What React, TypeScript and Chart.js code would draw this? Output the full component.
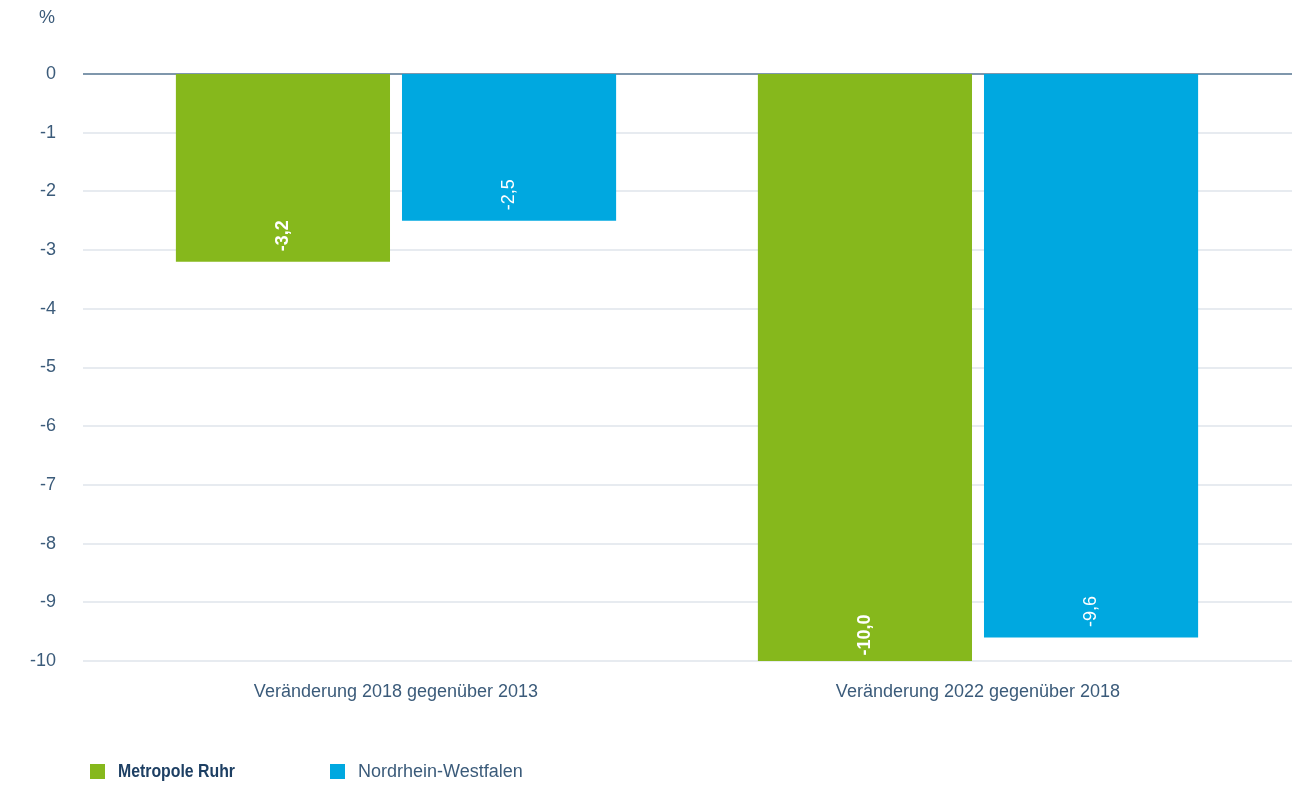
import React, { useEffect, useRef } from "react";
import { Chart, registerables } from "chart.js";

Chart.register(...registerables);

const categories = ["Veränderung 2018 gegenüber 2013", "Veränderung 2022 gegenüber 2018"];
const seriesNames = ["Metropole Ruhr", "Nordrhein-Westfalen"];
const metropoleRuhr = [-3.2, -10.0];
const nordrheinWestfalen = [-2.5, -9.6];
const yTicks = [0, -1, -2, -3, -4, -5, -6, -7, -8, -9, -10];

const GREEN = "#86b81c";
const BLUE = "#00a8e0";
const TEXT = "#3b5b7a";
const FONT = "'Liberation Sans', Arial, sans-serif";

const fmt = (v: number) => v.toFixed(1).replace(".", ",");

const customPlugin = {
  id: "custom",
  beforeDatasetsDraw(chart: any) {
    const { ctx } = chart;
    const y = chart.scales.y;
    ctx.save();
    yTicks.forEach((t) => {
      const py = Math.round(y.getPixelForValue(t));
      ctx.beginPath();
      if (t === 0) {
        ctx.strokeStyle = "#7f97ac";
        ctx.lineWidth = 2;
      } else {
        ctx.strokeStyle = "#e7ebf0";
        ctx.lineWidth = 2;
      }
      ctx.moveTo(83, py);
      ctx.lineTo(1292, py);
      ctx.stroke();
    });
    ctx.fillStyle = TEXT;
    ctx.font = `18px ${FONT}`;
    ctx.textAlign = "center";
    ctx.textBaseline = "middle";
    ctx.fillText("%", 47, 18);
    ctx.restore();
  },
  afterDatasetsDraw(chart: any) {
    const { ctx } = chart;
    ctx.save();
    chart.data.datasets.forEach((ds: any, di: number) => {
      const meta = chart.getDatasetMeta(di);
      meta.data.forEach((bar: any, i: number) => {
        const v = ds.data[i];
        ctx.save();
        ctx.translate(bar.x, bar.y - 26);
        ctx.rotate(-Math.PI / 2);
        ctx.fillStyle = "#ffffff";
        ctx.font = `${di === 0 ? "bold " : ""}18px ${FONT}`;
        ctx.textAlign = "center";
        ctx.textBaseline = "middle";
        ctx.fillText(fmt(v), 0, 0);
        ctx.restore();
      });
    });
    ctx.restore();
  },
};

function App() {
  const ref = useRef<HTMLCanvasElement>(null);
  useEffect(() => {
    if (!ref.current) return;
    const chart = new Chart(ref.current, {
      type: "bar",
      data: {
        labels: categories,
        datasets: [
          { label: seriesNames[0], data: metropoleRuhr, backgroundColor: GREEN },
          { label: seriesNames[1], data: nordrheinWestfalen, backgroundColor: BLUE },
        ],
      },
      plugins: [customPlugin],
      options: {
        responsive: false,
        animation: false,
        devicePixelRatio: 1,
        categoryPercentage: 0.777,
        barPercentage: 0.947,
        layout: { padding: { top: 74, right: 35, left: 0, bottom: 0 } },
        plugins: { legend: { display: false }, tooltip: { enabled: false } },
        scales: {
          x: {
            grid: { display: false, drawTicks: false },
            border: { display: false },
            ticks: { color: TEXT, font: { family: FONT, size: 18 }, padding: 20 },
            afterFit(scale: any) {
              scale.height = 126;
            },
          },
          y: {
            min: -10,
            max: 0,
            grid: { display: false, drawTicks: false },
            border: { display: false },
            ticks: {
              stepSize: 1,
              color: TEXT,
              font: { family: FONT, size: 18 },
              padding: 49,
            },
            afterFit(scale: any) {
              scale.width = 105;
            },
          },
        },
      },
    } as any);
    return () => chart.destroy();
  }, []);

  const legendItem = (color: string, label: string, bold: boolean, left: number) => (
    <div
      style={{
        position: "absolute",
        left,
        top: 761,
        height: 20,
        display: "flex",
        alignItems: "center",
        fontFamily: FONT,
        fontWeight: bold ? 700 : 400,
        fontSize: 18,
        color: bold ? "#1d3f63" : TEXT,
        whiteSpace: "nowrap",
      }}
    >
      <span style={{ display: "inline-block", width: 15, height: 15, background: color, marginRight: 13 }} />
      <span
        style={{
          display: "inline-block",
          transform: bold ? "scaleX(0.88)" : "none",
          transformOrigin: "left center",
        }}
      >
        {label}
      </span>
    </div>
  );

  return (
    <div style={{ position: "absolute", left: 0, top: 0, width: 1304, height: 787, background: "#fff" }}>
      <canvas ref={ref} width={1304} height={787} style={{ position: "absolute", left: 0, top: 0 }} />
      {legendItem(GREEN, seriesNames[0], true, 90)}
      {legendItem(BLUE, seriesNames[1], false, 330)}
    </div>
  );
}

export default App;
